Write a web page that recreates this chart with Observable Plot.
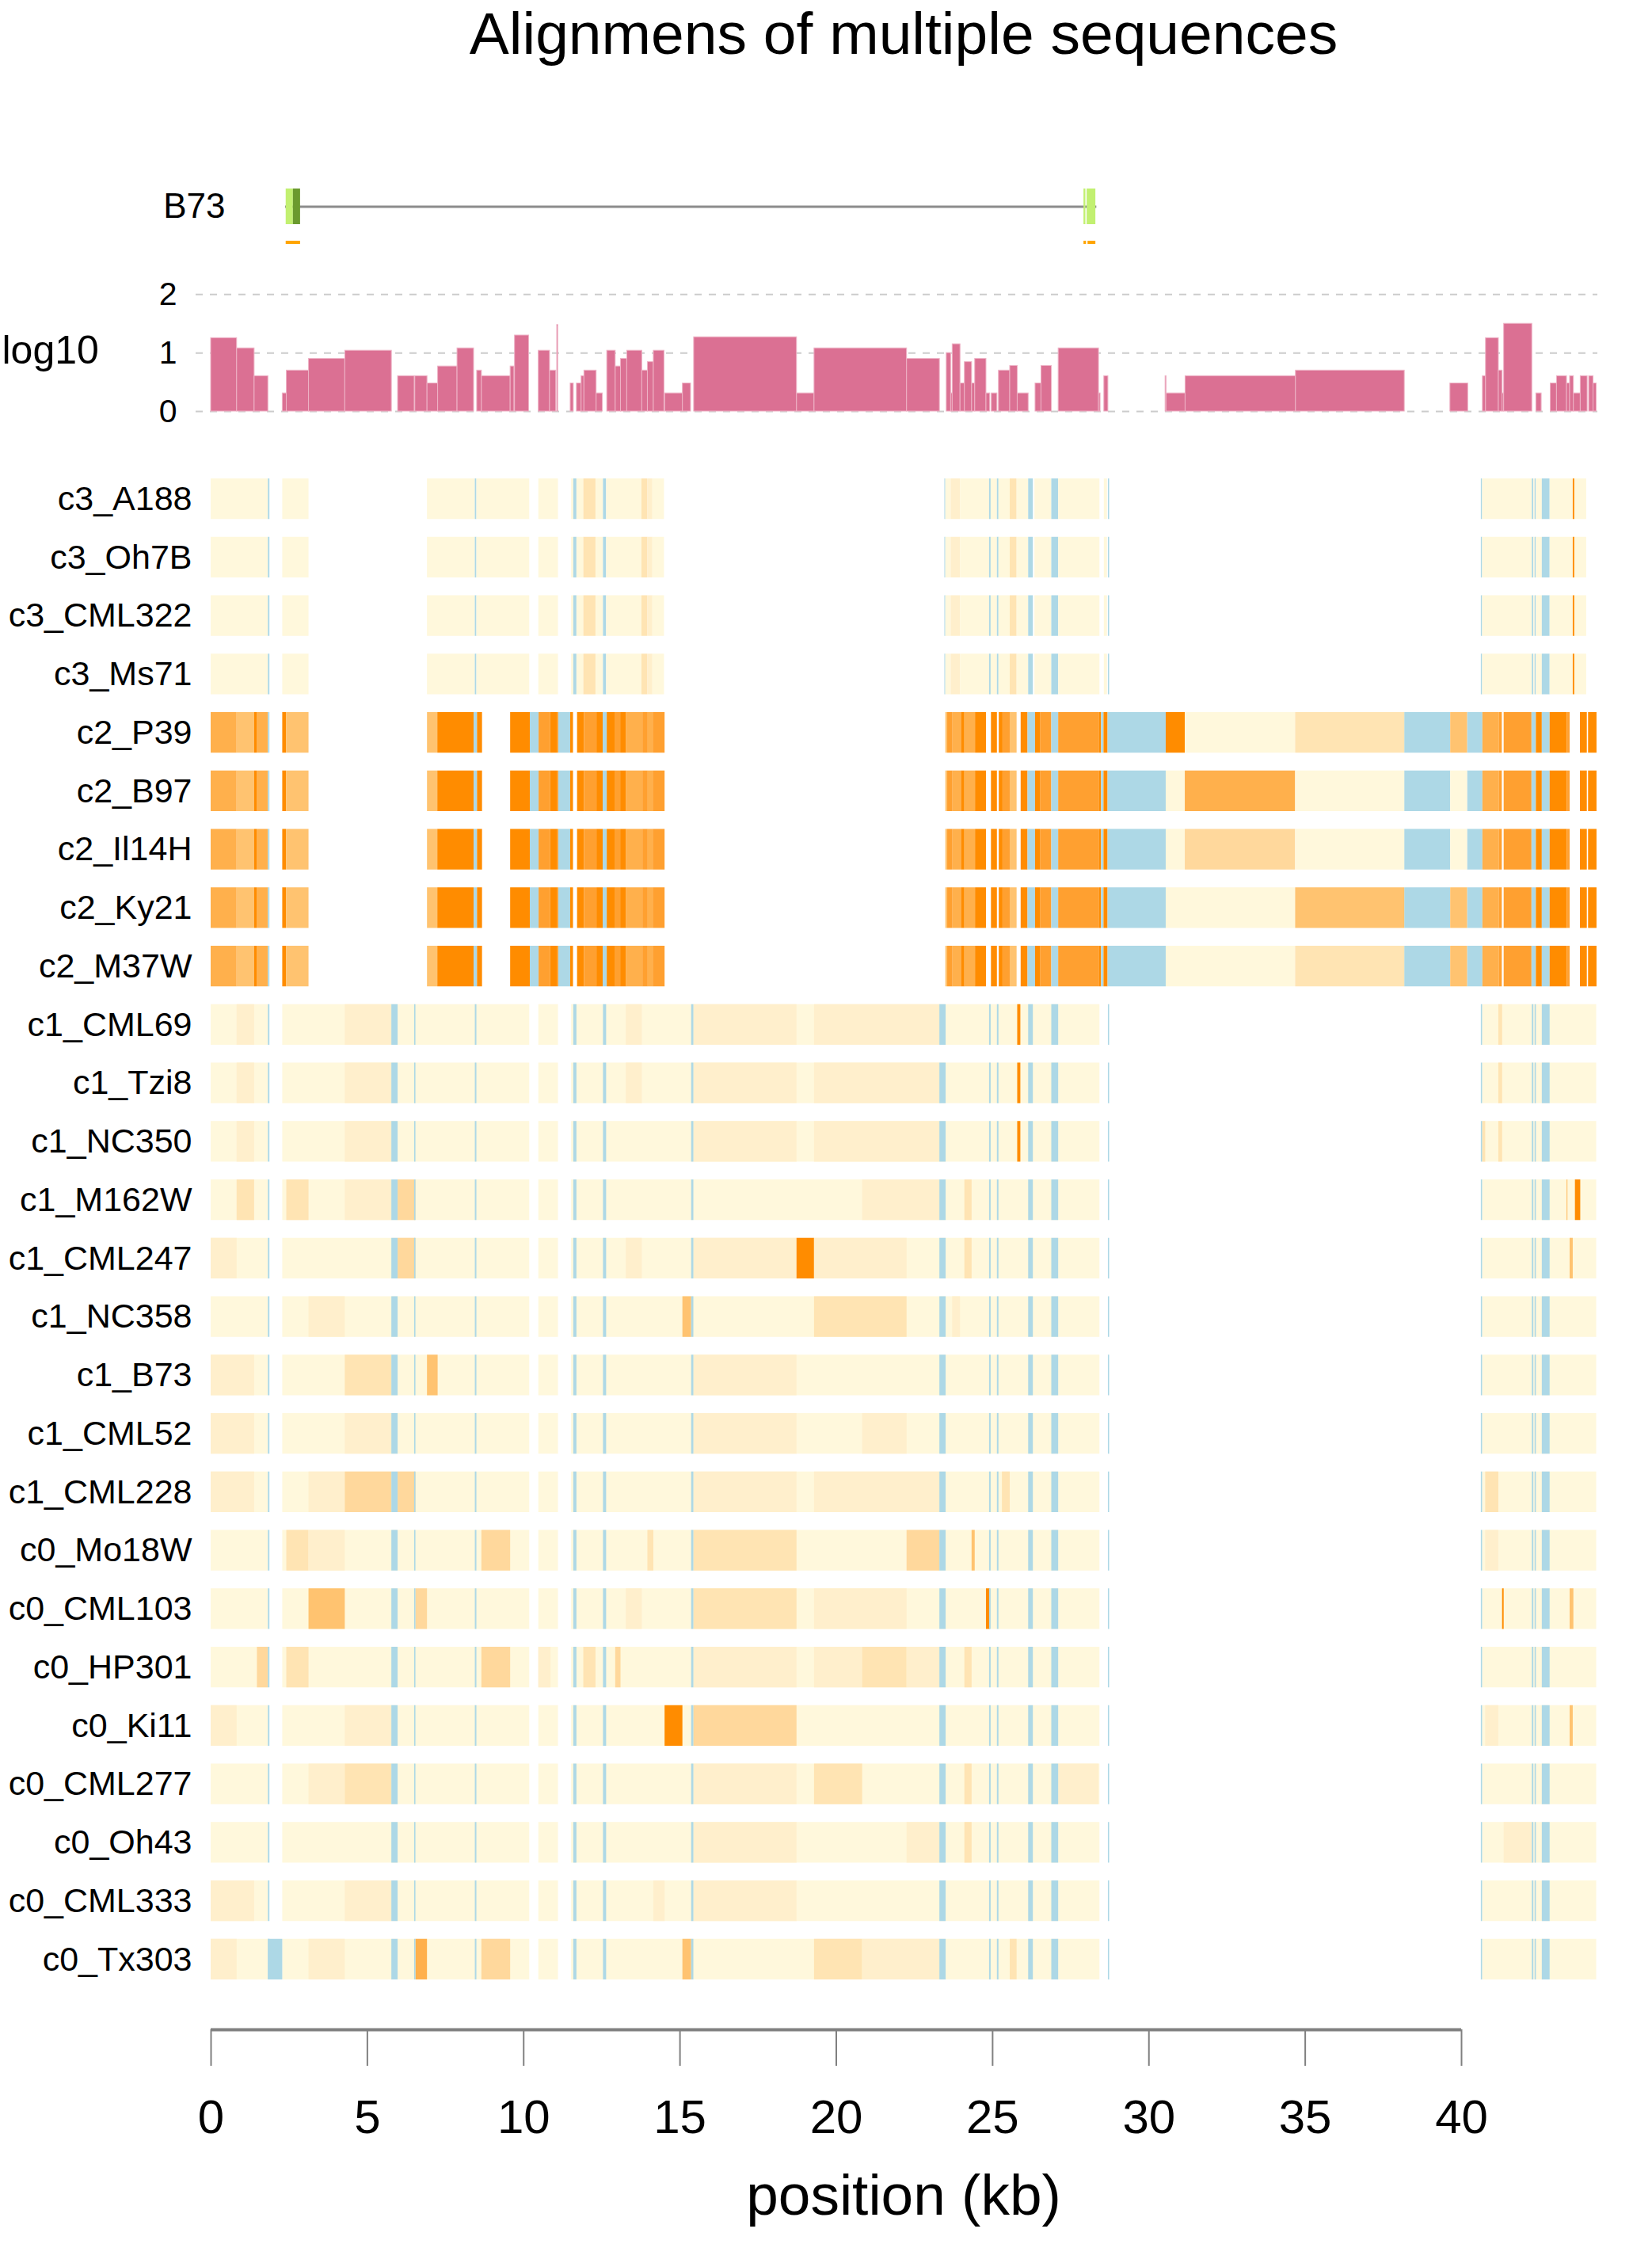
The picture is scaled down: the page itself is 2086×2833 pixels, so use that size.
<!DOCTYPE html>
<html>
<head>
<meta charset="utf-8">
<script src="https://cdn.jsdelivr.net/npm/d3@7"></script>
<script src="https://cdn.jsdelivr.net/npm/@observablehq/plot@0.6"></script>
<style>
  html, body { margin: 0; padding: 0; background: #ffffff; }
  #root { position: relative; width: 2086px; height: 2833px; overflow: hidden;
          font-family: "Liberation Sans", Arial, Helvetica, sans-serif; color: #000; }
  .abs { position: absolute; left: 0; }
  .ctr { position: absolute; transform: translateX(-50%); white-space: nowrap; line-height: 1; }
</style>
</head>
<body>
<div id="root"></div>
<script>
// ---------------- DATA ----------------
const rowNames = ["c3_A188","c3_Oh7B","c3_CML322","c3_Ms71",
  "c2_P39","c2_B97","c2_Il14H","c2_Ky21","c2_M37W",
  "c1_CML69","c1_Tzi8","c1_NC350","c1_M162W","c1_CML247","c1_NC358","c1_B73","c1_CML52","c1_CML228",
  "c0_Mo18W","c0_CML103","c0_HP301","c0_Ki11","c0_CML277","c0_Oh43","c0_CML333","c0_Tx303"];

const levelKeys = ["0","1","2","3","4","5","6","7","B"];
const levelColors = ["#fff8dc","#ffefcc","#ffe4b3","#ffd89c","#ffc370","#ffb04c","#ffa030","#ff8c00","#add8e6"];

const xTicks = [0, 5, 10, 15, 20, 25, 30, 35, 40];
const logTicks = [0, 1, 2];

// gene model (kb)
const geneIntron = [{start: 2.38, end: 28.33}];
const geneExons = [
  {start: 2.40, end: 2.63, part: "utr"}, {start: 2.63, end: 2.86, part: "cds"},
  {start: 27.92, end: 27.98, part: "utr"}, {start: 28.02, end: 28.30, part: "utr"}];
const geneOrange = [{start: 2.40, end: 2.86}, {start: 27.92, end: 28.00}, {start: 28.05, end: 28.30}];
const geneLabel = ["B73"];

// log10 coverage bars [start, end, value]
const logBars = [
  [0,0.83,1.255],[0.83,1.39,1.08],[1.39,1.83,0.605],
  [2.29,2.42,0.31],[2.42,3.13,0.70],[3.13,4.29,0.90],[4.29,5.78,1.04],
  [5.98,6.51,0.605],[6.53,6.92,0.605],[6.92,7.26,0.48],[7.26,7.88,0.77],[7.88,8.41,1.08],
  [8.51,8.66,0.70],[8.66,9.58,0.605],[9.58,9.70,0.77],[9.72,10.17,1.30],
  [10.48,10.84,1.04],[10.84,11.04,0.70],[11.07,11.10,1.48],
  [11.50,11.60,0.48],[11.70,11.85,0.48],[11.85,11.94,0.605],[11.94,12.33,0.70],[12.33,12.53,0.31],
  [12.67,12.94,1.04],[12.94,13.11,0.77],[13.11,13.31,0.90],[13.31,13.79,1.04],[13.79,13.97,0.70],[13.97,14.16,0.845],[14.16,14.50,1.04],
  [14.52,15.09,0.31],[15.09,15.35,0.48],[15.45,18.74,1.27],[18.74,19.30,0.31],[19.30,22.26,1.08],[22.26,23.31,0.90],
  [23.53,23.67,1.0],[23.67,23.72,0.31],[23.72,23.97,1.15],[23.97,24.11,0.48],[24.11,24.34,0.845],[24.34,24.44,0.48],[24.44,24.80,0.90],[24.80,24.92,0.31],
  [24.97,25.15,0.31],[25.20,25.56,0.70],[25.56,25.80,0.78],[25.80,26.15,0.31],
  [26.37,26.56,0.48],[26.56,26.89,0.78],[27.11,28.40,1.08],[28.40,28.45,0.31],[28.57,28.70,0.605],
  [30.53,30.56,0.605],[30.56,31.17,0.31],[31.17,34.70,0.605],[34.70,38.18,0.70],
  [39.64,40.21,0.48],[40.68,40.78,0.605],[40.78,41.19,1.255],[41.19,41.31,0.70],[41.31,41.36,0.31],[41.36,42.26,1.50],
  [42.39,42.56,0.31],[42.85,43.05,0.48],[43.05,43.37,0.605],[43.37,43.47,0.48],[43.47,43.59,0.605],[43.59,43.81,0.31],
  [43.81,44.03,0.605],[44.08,44.22,0.605],[44.22,44.32,0.48]
];

// c3 group (identical rows) [start, end, level]
const c3Segs = [
  [0,1.83,"0"],[1.83,1.88,"B"],[2.29,3.13,"0"],
  [6.92,8.45,"0"],[8.45,8.50,"B"],[8.50,10.19,"0"],
  [10.48,11.11,"0"],
  [11.53,11.60,"0"],[11.60,11.70,"B"],[11.70,11.92,"0"],[11.92,12.31,"2"],[12.31,12.55,"0"],[12.55,12.65,"B"],
  [12.65,13.78,"0"],[13.78,13.97,"2"],[13.97,14.13,"1"],[14.13,14.50,"0"],
  [23.47,23.50,"B"],[23.50,23.67,"0"],[23.67,23.97,"1"],[23.97,24.90,"0"],[24.90,24.95,"B"],[24.95,25.15,"0"],[25.15,25.20,"B"],
  [25.20,25.56,"0"],[25.56,25.78,"2"],[25.78,26.15,"0"],[26.15,26.30,"B"],[26.35,26.89,"0"],[26.89,27.11,"B"],
  [27.11,28.43,"0"],[28.57,28.67,"0"],[28.70,28.74,"B"],
  [40.63,40.67,"B"],[40.67,42.26,"0"],[42.26,42.31,"B"],[42.31,42.35,"0"],[42.35,42.39,"B"],[42.39,42.58,"0"],
  [42.58,42.83,"B"],[42.83,43.57,"0"],[43.57,43.62,"7"],[43.62,44.00,"0"]
];

// c2 group: shared blocks
const c2Segs = [
  [0,0.83,"5"],[0.83,1.39,"4"],[1.39,1.47,"7"],[1.47,1.83,"5"],[1.83,1.88,"B"],
  [2.29,2.41,"7"],[2.41,3.13,"4"],
  [6.92,7.25,"4"],[7.25,8.41,"7"],[8.41,8.52,"B"],[8.52,8.68,"7"],
  [9.58,10.21,"7"],[10.21,10.49,"B"],[10.49,10.86,"6"],[10.86,11.07,"7"],[11.07,11.12,"6"],[11.12,11.50,"B"],[11.50,11.59,"7"],
  [11.72,11.94,"7"],[11.94,12.34,"6"],[12.34,12.54,"7"],[12.54,12.67,"B"],[12.67,12.94,"7"],[12.94,13.10,"6"],
  [13.10,13.29,"7"],[13.29,13.81,"5"],[13.81,13.98,"6"],[13.98,14.14,"5"],[14.14,14.52,"6"],
  [23.50,23.56,"4"],[23.56,23.73,"6"],[23.73,24.00,"5"],[24.00,24.11,"7"],[24.11,24.45,"5"],[24.45,24.80,"7"],
  [24.96,25.15,"7"],[25.21,25.33,"7"],[25.33,25.56,"6"],[25.56,25.78,"4"],[25.91,26.13,"7"],[26.13,26.37,"B"],
  [26.37,26.54,"7"],[26.54,26.89,"6"],[26.89,27.11,"B"],[27.11,28.42,"6"],[28.42,28.48,"7"],[28.48,28.56,"B"],
  [28.56,28.69,"7"],[28.69,30.55,"B"],
  [38.18,39.65,"B"],[40.19,40.68,"B"],
  [40.68,41.21,"5"],[41.21,41.30,"6"],[41.36,42.25,"6"],[42.25,42.39,"B"],[42.39,42.58,"7"],[42.58,42.83,"B"],
  [42.83,43.38,"7"],[43.38,43.47,"6"],[43.80,44.02,"7"],[44.06,44.33,"7"]
];
// c2 rows: differing blocks
const segP39   = [[30.55,31.16,"7"],[31.16,34.69,"0"],[34.69,38.18,"2"],[39.65,40.19,"4"]];
const segB97   = [[30.55,31.16,"0"],[31.16,34.69,"5"],[34.69,38.18,"0"],[39.65,40.19,"0"]];
const segIl14H = [[30.55,31.16,"0"],[31.16,34.69,"3"],[34.69,38.18,"0"],[39.65,40.19,"0"]];
const segKy21  = [[30.55,34.69,"0"],[34.69,38.18,"4"],[39.65,40.19,"4"]];
const segM37W  = [[30.55,34.69,"0"],[34.69,38.18,"2"],[39.65,40.19,"4"]];

// c1 / c0 groups: shared blocks and blue stripes
const cBase = [[0,1.83],[2.29,10.19],[10.48,11.11],[11.53,28.43],[40.67,44.32]];
const cBlue = [[1.83,1.88],[5.78,5.98],[6.51,6.55],[8.45,8.50],[11.60,11.70],[12.55,12.65],[15.37,15.44],
  [23.31,23.51],[24.90,24.95],[25.15,25.20],[26.15,26.30],[26.89,27.11],[28.70,28.74],
  [40.63,40.67],[42.26,42.31],[42.35,42.39],[42.58,42.83]];
// per-row coloured blocks
const hiCML69  = [[0.83,1.39,"1"],[4.29,5.78,"1"],[13.28,13.79,"1"],[15.44,18.74,"1"],[19.30,23.31,"1"],[25.80,25.90,"7"],[41.19,41.31,"2"]];
const hiTzi8   = [[0.83,1.39,"1"],[4.29,5.78,"1"],[13.28,13.79,"1"],[15.44,18.74,"1"],[19.30,23.31,"1"],[25.80,25.90,"7"],[41.19,41.31,"2"]];
const hiNC350  = [[0.83,1.39,"1"],[4.29,5.78,"1"],[15.44,18.74,"1"],[19.30,23.31,"1"],[25.80,25.90,"7"],[40.67,40.77,"2"],[41.19,41.31,"2"]];
const hiM162W  = [[0.83,1.39,"2"],[2.42,3.13,"2"],[4.29,5.78,"1"],[5.98,6.55,"3"],[20.84,23.31,"1"],[24.11,24.34,"2"],[43.37,43.40,"4"],[43.64,43.81,"7"]];
const hiCML247 = [[0,0.83,"1"],[5.98,6.55,"3"],[13.28,13.79,"1"],[15.44,18.74,"1"],[18.74,19.30,"7"],[19.30,22.26,"1"],[24.11,24.34,"2"],[43.47,43.57,"4"]];
const hiNC358  = [[3.13,4.29,"1"],[15.09,15.37,"4"],[19.30,22.26,"2"],[23.72,23.97,"1"]];
const hiB73    = [[0,1.39,"1"],[4.29,5.78,"2"],[6.92,7.26,"4"],[15.44,18.74,"1"]];
const hiCML52  = [[0,1.39,"1"],[4.29,5.78,"1"],[15.44,18.74,"1"],[20.84,22.26,"1"]];
const hiCML228 = [[0,1.39,"1"],[3.13,4.29,"1"],[4.29,5.78,"3"],[5.98,6.55,"3"],[15.44,18.74,"1"],[19.30,23.31,"1"],[25.31,25.56,"2"],[40.77,41.19,"2"]];
const hiMo18W  = [[2.42,3.13,"2"],[3.13,4.29,"1"],[8.66,9.58,"3"],[13.97,14.16,"2"],[15.44,18.74,"2"],[22.26,23.31,"3"],[24.34,24.44,"4"],[40.77,41.19,"1"]];
const hiCML103 = [[3.13,4.29,"4"],[6.55,6.92,"3"],[13.28,13.79,"1"],[15.44,18.74,"2"],[19.30,22.26,"1"],[24.80,24.92,"7"],[41.31,41.36,"7"],[43.47,43.59,"4"]];
const hiHP301  = [[1.48,1.83,"3"],[2.42,3.13,"2"],[8.66,9.58,"3"],[10.48,10.87,"1"],[11.92,12.31,"2"],[12.94,13.11,"3"],[15.44,18.74,"1"],[19.30,20.84,"1"],[20.84,22.26,"2"],[22.26,23.31,"1"],[24.11,24.34,"2"]];
const hiKi11   = [[0,0.83,"1"],[4.29,5.78,"1"],[14.52,15.09,"7"],[15.44,18.74,"3"],[40.77,41.19,"1"],[43.47,43.57,"4"]];
const hiCML277 = [[3.13,4.29,"1"],[4.29,5.78,"2"],[15.44,18.74,"1"],[19.30,20.84,"2"],[24.11,24.34,"2"],[27.11,28.40,"1"]];
const hiOh43   = [[15.44,18.74,"1"],[22.26,23.31,"1"],[24.11,24.34,"2"],[41.36,42.26,"1"]];
const hiCML333 = [[0,1.39,"1"],[4.29,5.78,"1"],[14.16,14.52,"1"],[15.44,18.74,"1"]];
const hiTx303  = [[0,0.83,"1"],[1.83,2.29,"B"],[3.13,4.29,"1"],[6.55,6.92,"5"],[8.66,9.58,"3"],[15.09,15.37,"4"],[19.30,20.84,"2"],[20.84,23.31,"1"],[25.56,25.78,"2"]];

// ---------------- BUILD TABLE ----------------
const c3Rows = ["c3_A188","c3_Oh7B","c3_CML322","c3_Ms71"];
const c2Rows = [["c2_P39",segP39],["c2_B97",segB97],["c2_Il14H",segIl14H],["c2_Ky21",segKy21],["c2_M37W",segM37W]];
const cRows = [["c1_CML69",hiCML69],["c1_Tzi8",hiTzi8],["c1_NC350",hiNC350],["c1_M162W",hiM162W],["c1_CML247",hiCML247],
  ["c1_NC358",hiNC358],["c1_B73",hiB73],["c1_CML52",hiCML52],["c1_CML228",hiCML228],
  ["c0_Mo18W",hiMo18W],["c0_CML103",hiCML103],["c0_HP301",hiHP301],["c0_Ki11",hiKi11],["c0_CML277",hiCML277],
  ["c0_Oh43",hiOh43],["c0_CML333",hiCML333],["c0_Tx303",hiTx303]];

const segments = [];
const push = (row, s, lvl) => segments.push({row, start: s[0], end: s[1], level: lvl ?? s[2]});
c3Rows.forEach(r => c3Segs.forEach(s => push(r, s)));
c2Rows.forEach(([r, v]) => { c2Segs.forEach(s => push(r, s)); v.forEach(s => push(r, s)); });
cRows.forEach(([r, hi]) => {
  cBase.forEach(s => push(r, s, "0"));
  hi.forEach(s => push(r, s));
  cBlue.forEach(s => push(r, s, "B"));
});
const bars = logBars.map(([start, end, value]) => ({start, end, value}));

// ---------------- LAYOUT ----------------
const W = 2086;
const X0 = 266, X40 = 1845;            // pixel positions of 0 kb and 40 kb
const K = (X40 - X0) / 40;             // px per kb
const FONT = '"Liberation Sans", Arial, Helvetica, sans-serif';
const xFor = (left, right) => ({domain: [(left - X0) / K, (right - X0) / K], label: null, axis: null});
const root = document.getElementById("root");
function place(node, top) {
  const d = document.createElement("div");
  d.className = "abs"; d.style.top = top + "px";
  d.appendChild(node); root.appendChild(d);
}
const baseStyle = {fontFamily: FONT, background: "transparent", color: "black", overflow: "visible"};

// title
const title = document.createElement("div");
title.className = "ctr";
title.style.cssText += "left:1141px;top:5px;font-size:75px;";
title.textContent = "Alignmens of multiple sequences";
root.appendChild(title);

// gene track
const L1 = 266, R1 = 2030;
place(Plot.plot({
  width: W, height: 140, marginLeft: L1, marginRight: W - R1, marginTop: 0, marginBottom: 16,
  style: baseStyle,
  x: xFor(L1, R1),
  y: {domain: [-1, 1], range: [83, 38], axis: null, label: null},
  color: {domain: ["utr", "cds"], range: ["#c2f071", "#6b9a2e"]},
  marks: [
    Plot.ruleY(geneIntron, {x1: "start", x2: "end", y: 0, stroke: "#8c8c8c", strokeWidth: 3}),
    Plot.rect(geneExons, {x1: "start", x2: "end", y1: -1, y2: 1, fill: "part"}),
    Plot.rect(geneOrange, {x1: "start", x2: "end", y1: -1.93, y2: -2.11, fill: "#ffa500"}),
    Plot.text(geneLabel, {frameAnchor: "left", y: 0, dx: 18, textAnchor: "end", fontSize: 44, fill: "black"})
  ]
}), 200);

// log10 track
const L2 = 247, R2 = 2017;
place(Plot.plot({
  width: W, height: 200, marginLeft: L2, marginRight: W - R2, marginTop: 31.3, marginBottom: 21,
  style: baseStyle,
  x: xFor(L2, R2),
  y: {domain: [0, 2], label: null},
  marks: [
    Plot.gridY(logTicks, {stroke: "#cccccc", strokeOpacity: 1, strokeWidth: 2, strokeDasharray: "9,9"}),
    Plot.rect(bars, {x1: "start", x2: "end", y1: 0, y2: "value", fill: "#db7093", stroke: "#eeb3c6", strokeWidth: 1}),
    Plot.axisY(logTicks, {tickSize: 0, tickPadding: 24, fontSize: 41, fill: "black", tickFormat: d => String(d)}),
    Plot.text(["log10"], {frameAnchor: "left", dx: -245, dy: -3, textAnchor: "start", fontSize: 50, fill: "black"})
  ]
}), 340);

// alignment rows
const L3 = 266, R3 = 2030;
place(Plot.plot({
  width: W, height: 1940, marginLeft: L3, marginRight: W - R3, marginTop: 12.75, marginBottom: 9.75,
  style: baseStyle,
  x: xFor(L3, R3),
  y: {type: "band", domain: rowNames, paddingInner: 0.305, paddingOuter: 0.1525, round: false, label: null},
  color: {domain: levelKeys, range: levelColors},
  marks: [
    Plot.barX(segments, {x1: "start", x2: "end", y: "row", fill: "level"}),
    Plot.axisY({tickSize: 0, tickPadding: 24, fontSize: 43, fill: "black"})
  ]
}), 580);

// x axis
place(Plot.plot({
  width: W, height: 333, marginLeft: X0, marginRight: W - X40, marginTop: 0, marginBottom: 271,
  style: baseStyle,
  x: {domain: [xTicks[0], xTicks[xTicks.length - 1]], label: null},
  y: {domain: [0, 1], axis: null, label: null},
  marks: [
    Plot.ruleY([0], {x1: xTicks[0], x2: xTicks[xTicks.length - 1], stroke: "#808080", strokeWidth: 4}),
    Plot.axisX(xTicks, {tickSize: 46, tickPadding: 42, fontSize: 60, stroke: "#808080", strokeWidth: 2, fill: "black", tickFormat: d => String(d)})
  ]
}), 2500);

// x label
const xl = document.createElement("div");
xl.className = "ctr";
xl.style.cssText += "left:1141px;top:2734px;font-size:73px;";
xl.textContent = "position (kb)";
root.appendChild(xl);
</script>
</body>
</html>
